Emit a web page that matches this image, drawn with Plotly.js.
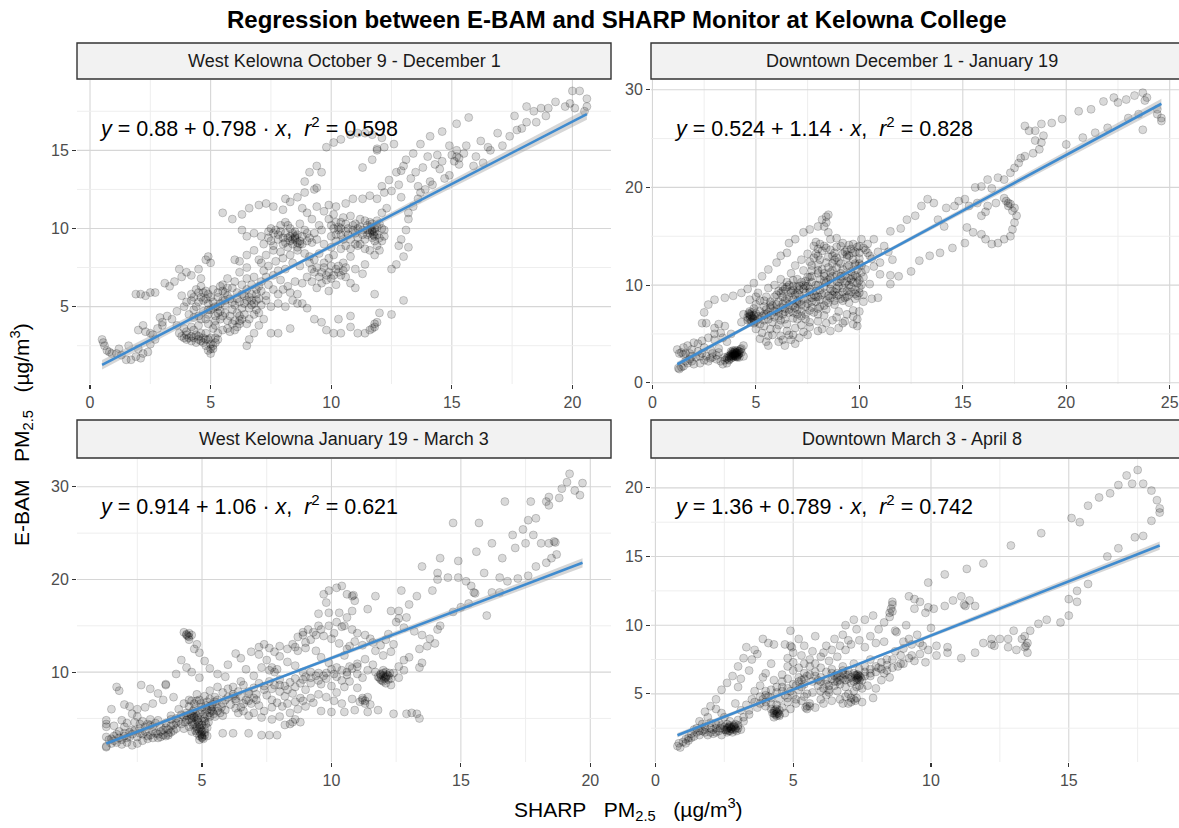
<!DOCTYPE html>
<html>
<head>
<meta charset="utf-8">
<script src="https://cdn.plot.ly/plotly-3.0.1.min.js"></script>
<style>html,body{margin:0;padding:0;background:#fff;}</style>
</head>
<body>
<div id="chart" style="width:1179px;height:828px;"></div>
<script>
// Facet labels and regression summaries (intercept, slope, r²)
const panelTitles = [
  'West Kelowna October 9 - December 1',
  'Downtown December 1 - January 19',
  'West Kelowna January 19 - March 3',
  'Downtown March 3 - April 8'
];
const fitIntercept = [0.88, 0.524, 0.914, 1.36];
const fitSlope = [0.798, 1.14, 1.06, 0.789];
const fitR2 = ['0.598', '0.828', '0.621', '0.742'];
// half-width of the 95% band at the first, mean and last x
const bandHalfWidth = [[0.30, 0.12, 0.36], [0.25, 0.12, 0.50], [0.30, 0.15, 0.50], [0.16, 0.08, 0.30]];

// Paired hourly readings [SHARP, E-BAM] in µg/m³
const westFall = [
  [0.5,2.9],[0.55,2.7],[0.6,2.5],[0.7,2.2],[0.8,2.1],[0.9,2.0],[1.1,2.0],[1.3,1.9],[1.5,1.6],[1.7,1.6],[1.9,1.8],[2.1,1.7],
  [2.2,2.0],[2.4,2.1],[2.0,2.3],[1.6,2.5],[1.2,2.3],[2.5,2.6],[2.7,2.9],[2.6,3.2],[2.3,3.4],[2.0,3.5],[2.2,3.8],[2.5,3.3],
  [2.8,3.6],[3.0,4.0],[2.9,4.3],[3.2,4.4],[3.0,3.8],[1.9,5.8],[2.1,5.8],[2.3,5.7],[2.5,5.9],[2.7,5.9],
  [3.3,6.3],[3.1,6.5],[3.5,6.6],[3.7,7.4],[3.8,6.9],[4.0,7.2],[4.2,7.0],[4.5,7.4],[4.8,8.0],[4.9,8.2],[5.0,7.8],[4.6,6.8],
  [6.0,8.0],[6.2,7.9],
  [3.7,3.3],[3.9,3.0],[4.0,2.9],[4.2,3.1],[4.3,3.5],[4.5,3.1],[4.6,2.8],[4.8,2.5],[4.9,2.2],[5.0,2.0],[5.1,2.3],[5.2,2.7],
  [5.3,3.3],[5.1,3.6],[4.9,3.9],[5.5,3.5],[5.8,3.4],[6.0,3.5],[6.2,3.9],[6.3,4.2],[6.5,2.5],[6.6,2.9],[6.8,3.3],[7.0,3.8],
  [7.2,4.2],[4.1,3.0],[4.4,3.2],[4.7,3.0],[5.0,2.6],[5.2,3.0],[4.0,3.2],[5.7,3.6],[6.1,3.7],
  [4.4,2.7],[4.6,3.3],[4.8,2.9],[5.0,3.0],[5.1,2.5],[4.9,2.9],[3.8,3.1],[4.2,2.8],
  [4.0,3.4],[4.3,3.0],[4.7,2.7],[5.0,2.3],[5.3,2.9],[4.5,2.9],[4.8,3.3],
  [3.8,5.7],[4.0,5.3],[4.2,5.4],[4.4,5.0],[4.6,5.6],[4.7,5.9],[4.9,5.2],[5.0,4.8],[5.2,4.4],[5.3,5.0],[5.5,5.4],[5.6,5.9],
  [5.8,5.5],[6.0,5.1],[6.1,4.6],[6.3,4.9],[6.4,5.7],[6.5,6.1],[6.6,5.6],[6.8,5.2],[6.9,4.8],[7.0,5.5],[7.1,6.0],[7.3,5.7],
  [7.4,6.4],[7.5,5.0],[7.8,5.2],[8.1,5.0],[8.4,5.4],[8.6,5.2],[8.8,5.2],[9.0,4.9],[5.4,6.3],[5.7,6.8],[6.0,6.6],[6.2,7.2],
  [6.5,7.5],[6.8,6.9],[7.2,7.3],[7.6,7.0],[7.9,6.7],[8.2,6.3],[8.5,6.6],[8.8,6.5],[9.0,6.9],[9.2,7.4],[4.5,5.3],[4.8,5.5],
  [6.7,5.4],[6.9,5.8],[5.1,4.9],[5.4,4.7],[6.2,5.3],[6.6,4.9],
  [4.1,4.5],[4.3,4.8],[4.5,4.4],[4.7,4.7],[4.9,4.5],[5.1,5.3],[5.3,5.6],[5.5,6.0],[5.7,5.7],[5.9,6.2],[6.1,5.9],[6.3,6.4],
  [6.5,6.8],[6.7,6.4],[6.9,6.1],[7.1,6.6],[7.3,6.9],[5.2,3.8],[5.4,4.2],[5.6,4.6],[5.8,4.4],[6.0,4.1],[6.2,4.4],[6.4,4.5],
  [6.6,4.2],[5.0,5.6],[4.8,6.0],[4.6,6.3],[4.4,6.1],[4.2,5.8],[5.6,5.1],[5.9,4.8],[6.4,5.2],[6.7,5.8],[7.0,6.3],[7.6,6.1],
  [7.8,5.8],[8.0,6.1],[8.3,5.9],[8.6,5.8],[5.3,4.6],[4.8,4.2],[4.5,3.8],[4.2,3.7],[3.9,3.6],[3.6,3.8],[3.4,4.2],[3.6,4.7],
  [3.9,5.0],
  [4.3,5.6],[4.5,5.9],[4.7,5.4],[4.9,5.8],[5.1,6.1],[5.3,5.9],[5.5,6.4],[5.7,6.2],[5.9,5.3],[6.1,5.5],[6.3,5.8],[6.5,5.4],
  [6.7,5.1],[6.9,5.4],[7.1,5.1],[7.3,5.4],[5.2,4.1],[5.5,4.4],[5.7,4.1],[5.9,3.9],[6.2,4.1],[6.5,3.9],[6.8,4.5],[7.0,4.6],
  [4.3,4.3],[4.6,4.2],[4.9,4.8],[5.2,5.0],[5.4,5.2],[5.6,5.4],
  [6.3,9.9],[6.5,9.5],[6.8,9.7],[7.1,9.5],[7.4,9.8],[7.6,9.7],[7.8,9.3],[8.1,9.7],[8.4,9.3],[8.2,8.8],[7.9,8.5],[7.6,8.6],
  [7.3,8.3],[7.0,8.0],[8.6,8.8],[8.9,8.4],[9.1,8.2],[9.3,8.0],[8.7,7.6],[9.4,7.5],[9.6,7.2],[9.8,6.7],[10.0,7.6],[10.3,7.2],
  [10.5,7.8],[10.8,8.2],[11.1,8.9],[11.3,7.1],[11.4,7.7],[11.0,7.4],[10.6,6.9],[10.2,6.4],[9.9,6.0],[8.5,9.5],[8.7,9.2],
  [7.2,9.0],[7.5,9.2],[7.7,9.9],[7.9,10.2],[8.1,10.4],[8.3,10.0],[8.5,9.8],[8.7,10.3],[8.9,9.9],[9.1,9.4],[9.3,9.7],[9.5,10.2],
  [8.4,9.0],[8.6,8.6],[8.8,9.0],[9.0,9.2],[8.2,9.4],[8.0,9.0],[7.6,8.9],[7.4,9.4],[9.2,10.6],[9.0,11.0],[8.8,11.3],[9.4,11.4],
  [9.7,11.1],[9.9,11.5],[10.2,11.4],[8.5,9.3],[8.6,9.6],[8.3,9.5],
  [7.5,10.0],[7.8,9.6],[8.0,9.4],[8.2,10.2],[8.4,9.7],[8.6,9.1],[8.8,9.5],[9.0,9.7],[9.2,9.1],[9.4,9.3],[8.3,9.2],[8.5,9.4],
  [8.7,9.0],[8.1,9.1],[7.9,9.8],
  [9.6,6.5],[9.8,7.0],[10.0,6.8],[10.2,7.4],[10.4,7.0],[10.6,7.5],[9.5,8.4],[9.7,7.8],[9.9,8.1],[10.1,8.3],[10.8,6.5],[11.0,6.2],
  [9.1,7.8],[9.3,7.2],[9.5,6.9],[9.7,7.5],[9.9,7.2],[10.1,7.0],[10.3,7.6],[10.5,7.3],[9.2,6.6],[9.4,6.2],
  [6.5,8.3],[6.8,8.6],[7.1,7.8],[7.4,7.6],[7.7,7.9],[8.0,8.1],[8.3,8.3],[8.4,7.8],[8.1,7.4],[7.8,7.3],
  [5.5,11.0],[5.9,10.6],[6.3,10.9],[6.6,11.3],[7.0,11.5],[7.3,11.6],[7.6,11.4],[8.0,11.2],[8.1,11.9],[8.3,11.7],[8.6,12.0],
  [8.9,12.3],[9.3,12.5],[8.9,13.0],[9.1,13.6],[9.4,14.0],[9.6,13.6],[9.4,12.6],
  [9.6,9.9],[9.9,10.6],[10.1,10.9],[10.3,10.1],[10.0,9.5],[9.7,9.0],[10.4,9.6],[10.6,10.3],[10.8,10.8],[10.9,9.9],[11.1,9.4],
  [11.3,9.9],[11.5,10.2],[11.6,9.7],[11.7,9.4],[11.8,10.0],[11.9,9.6],[12.0,10.3],[12.1,9.2],[11.4,8.7],[11.9,8.9],[12.2,9.9],
  [11.2,10.6],[10.6,11.6],[10.9,11.9],[11.3,11.9],[11.6,12.1],[11.9,11.9],[12.1,12.7],[12.2,12.3],[12.4,13.1],[12.7,13.6],
  [12.1,11.0],[12.3,11.3],[11.7,9.9],[11.8,9.5],[10.2,10.4],[10.0,10.2],
  [10.0,8.8],[10.2,9.2],[10.4,8.7],[10.6,8.9],[10.8,9.3],[11.0,9.7],[11.2,9.0],[11.4,9.3],[11.6,8.6],[11.8,8.3],[12.0,8.6],
  [10.5,10.7],[10.7,10.0],[11.0,10.3],[11.2,10.1],[11.5,9.6],[11.7,10.3],[11.9,10.5],[12.1,10.0],[11.6,9.9],[11.8,9.8],
  [11.75,9.6],[11.65,10.1],[10.3,9.9],[10.1,10.0],[10.4,10.4],
  [10.2,9.6],[10.5,9.3],[10.7,9.6],[10.9,10.2],[11.1,10.0],[11.3,9.6],[11.5,9.9],[11.7,9.8],[11.9,10.1],[11.6,10.4],
  [11.4,10.5],[11.8,9.2],[12.0,9.4],[12.2,9.5],[11.0,9.0],[10.8,8.7],[10.6,9.8],[10.4,10.0],
  [9.8,15.2],[10.1,15.5],[10.4,15.7],[10.8,16.0],[11.1,16.1],[11.4,16.1],[11.7,16.0],[12.1,15.8],[12.2,15.2],[12.6,15.4],
  [11.9,15.0],[11.9,15.1],[11.7,14.4],[11.3,13.9],
  [13.1,14.4],[13.4,14.8],[13.7,15.4],[14.0,14.6],[14.4,14.7],[14.9,15.3],[15.0,14.7],[15.1,14.3],[15.5,14.8],[15.3,14.1],
  [16.0,14.6],[15.9,14.0],[16.3,14.2],[14.5,13.8],[14.9,13.4],[14.7,13.2],[14.1,13.0],[13.7,12.3],[13.6,11.9],[13.4,11.4],
  [13.2,11.0],[13.2,10.6],[13.1,9.9],[12.9,9.3],[13.2,8.8],[13.0,8.2],[12.7,7.7],[12.5,7.4],[12.8,8.9],[13.6,12.7],
  [13.9,12.5],[14.2,12.8],[12.9,12.0],
  [12.5,12.4],[12.8,12.8],[13.3,13.2],[13.5,13.6],[13.8,13.9],[14.3,14.1],[14.6,14.3],[15.2,15.0],[15.6,15.3],[16.5,15.2],
  [12.9,13.7],[13.0,14.0],[15.3,14.5],[15.2,14.6],
  [9.3,4.2],[9.6,4.0],[9.8,3.5],[10.1,3.3],[10.4,3.3],[10.8,3.7],[11.1,3.3],[11.4,3.3],[11.6,3.5],[11.8,3.7],[11.9,4.0],
  [12.0,4.6],[12.5,4.5],[11.8,5.8],[13.0,5.4],[10.3,4.2],[10.8,4.4],[7.8,3.3],[7.5,3.3],[8.3,3.6],[11.7,3.6],[11.8,3.9],
  [14.1,15.9],[14.6,16.2],[15.2,16.7],[15.7,17.1],[16.9,16.1],[17.1,15.3],[17.4,15.9],[17.7,16.3],[17.6,17.2],[18.1,16.8],
  [18.1,17.8],[18.4,17.5],[18.7,17.7],[19.0,17.7],[19.3,18.1],[19.7,17.8],[20.1,17.7],[20.0,18.8],[20.3,18.8],[20.6,18.3],
  [20.6,17.8],[20.5,17.5],[19.9,18.0],[18.9,17.2],[18.5,16.8],[17.9,16.4],[16.6,15.0],[16.2,15.6]
];

const downtownWinter = [
  [1.2,3.4],[1.25,1.5],[1.3,1.4],[1.4,1.6],[1.5,1.7],[1.7,2.0],[1.8,2.4],[1.6,3.0],[1.7,3.8],[2.0,4.1],[2.2,3.2],[2.4,3.0],
  [2.6,2.7],[2.8,2.5],[2.3,2.0],[2.0,1.9],[1.9,2.7],[1.4,3.1],[1.5,3.6],[1.9,3.4],[3.0,4.4],[3.3,5.1],[2.6,6.1],[2.4,6.1],
  [1.6,2.2],[1.9,2.2],[2.1,2.6],[2.3,2.7],[2.5,2.3],[2.7,2.2],[2.9,2.6],[3.1,2.8],[3.2,3.1],[2.8,3.4],[2.5,3.6],[2.2,4.0],
  [2.4,4.3],[2.7,4.6],[3.0,5.0],[3.4,4.6],[1.3,3.0],[1.5,2.9],[1.8,3.0],
  [2.5,7.2],[2.7,8.0],[3.0,8.5],[3.5,8.7],[3.9,8.9],[4.3,9.2],[4.6,9.6],[4.9,10.2],[5.3,10.9],[5.6,11.6],[6.0,12.3],
  [6.2,13.0],[6.5,13.3],[6.6,14.3],[6.9,14.7],[7.3,15.4],[7.6,15.7],[8.0,16.0],[8.2,16.7],[8.5,17.2],[8.4,16.4],[8.5,15.4],
  [8.6,14.7],[8.9,14.8],[8.4,17.0],[8.3,16.0],
  [3.3,2.2],[3.5,2.3],[3.7,2.4],[3.8,2.7],[3.9,2.9],[4.0,2.9],[4.0,3.1],[4.1,2.8],[4.2,3.2],[3.9,3.3],[4.1,2.6],[4.3,3.5],
  [4.4,3.8],[3.6,2.0],[3.4,1.9],[3.1,2.4],[2.9,3.0],[3.2,3.5],[3.6,4.2],[3.8,5.0],[3.5,5.8],[3.2,6.0],[3.0,5.6],
  [3.95,2.8],[4.05,3.0],[4.0,2.7],[3.85,3.1],[4.15,2.9],[3.9,2.6],[4.1,3.3],[3.8,2.5],
  [3.7,2.6],[3.8,2.9],[3.9,3.0],[4.0,2.8],[4.1,3.1],[4.0,3.3],[3.9,2.7],[3.8,3.2],[4.2,3.0],[4.1,2.7],[3.95,3.15],[4.05,2.65],
  [3.75,2.8],[4.2,2.6],[3.6,2.5],[4.4,2.7],[4.3,3.1],[3.85,2.75],[3.95,2.95],[4.05,3.05],[4.15,3.2],[3.7,2.3],[3.65,2.7],
  [4.25,3.4],[3.5,2.6],
  [4.7,7.0],[4.8,6.8],[4.9,6.1],[5.1,6.8],[4.6,6.4],[5.0,5.5],[5.3,5.1],[5.2,4.5],[5.5,4.2],[5.8,4.9],[6.0,5.5],[6.2,4.8],
  [6.4,3.8],[6.7,4.4],[6.9,4.0],[7.1,4.6],[7.3,5.2],[7.6,5.7],[8.0,5.3],[8.2,5.5],[4.75,6.9],[4.65,7.1],
  [4.6,6.7],[4.7,6.5],[4.8,7.2],[4.9,6.9],[4.7,7.3],[4.85,6.6],[5.0,7.1],[4.8,6.3],[4.9,6.5],[5.0,6.3],[4.75,6.2],[4.7,6.8],
  [5.1,9.2],[5.4,8.4],[5.7,7.7],[6.0,7.5],[6.3,8.1],[6.4,9.6],[6.6,8.8],[6.8,9.9],[7.0,10.6],[7.1,8.3],[7.2,7.3],[7.4,6.5],
  [7.4,9.9],[7.6,10.8],[7.7,8.7],[7.9,9.4],[8.0,11.2],[8.1,7.8],[8.3,6.9],[8.5,8.2],[8.6,10.1],[8.7,11.5],[8.8,9.3],
  [8.9,6.7],[9.0,12.4],[9.1,10.6],[9.2,6.1],[9.3,8.7],[9.4,11.9],[9.5,13.0],[9.6,9.8],[9.7,7.4],[9.8,12.2],[9.9,8.9],
  [9.9,6.5],[10.0,7.3],[10.0,10.5],[10.1,11.3],[9.9,10.2],[10.3,11.6],[10.7,11.9],[11.0,12.3],[11.6,12.6],[11.2,14.0],
  [10.7,14.7],[10.1,14.7],[10.0,13.3],[9.6,13.7],[9.1,14.0],[8.0,13.7],[7.8,14.0],[7.5,13.2],[7.2,12.6],[6.9,12.0],
  [6.7,11.2],[6.2,10.6],[5.9,10.0],[5.6,9.7],[5.0,8.0],[4.7,8.5],[5.8,6.2],[6.1,6.8],[6.5,6.0],[6.8,6.6],[7.0,7.0],
  [7.8,7.2],[8.4,7.5],[8.8,8.0],[9.2,8.4],[9.5,9.0],[9.8,9.5],[10.2,9.0],[10.2,8.3],[8.1,12.6],[8.5,12.9],[8.8,13.3],
  [9.3,13.4],[7.3,11.5],[7.7,12.0],[6.5,10.3],[6.2,9.2],[5.5,8.8],[4.9,7.6],[4.4,7.0],[4.3,6.2],[5.2,7.3],[5.7,8.3],
  [6.4,7.3],[6.9,7.7],[7.5,8.1],[8.2,9.0],[8.6,9.6],[9.0,9.9],[9.4,10.4],[9.7,10.9],[10.1,12.0],[10.5,13.0],[10.4,14.2],
  [10.9,13.4],[11.4,13.4],[11.0,11.1],[11.5,11.0],[10.5,10.1],[10.6,8.6],[9.7,6.0],[9.9,5.8],[9.3,6.3],[6.6,4.9],[6.1,4.2],
  [5.6,3.8],[7.0,9.2],[7.3,9.6],[7.6,9.3],[6.7,9.4],[8.3,10.4],[8.9,11.0],[9.6,11.4],[8.0,10.0],[6.3,7.0],[5.6,6.5],
  [9.5,14.1],[9.9,13.9],[10.3,13.6],[8.4,13.8],
  [5.2,6.0],[5.4,6.4],[5.5,7.0],[5.7,6.9],[5.9,7.3],[6.0,8.0],[6.2,7.7],[6.4,8.4],[6.6,8.0],[6.8,8.5],[7.0,8.1],[7.1,9.0],
  [7.3,8.6],[7.4,9.2],[7.6,9.6],[7.8,9.0],[7.9,8.3],[8.0,8.8],[8.1,9.5],[8.3,9.8],[8.4,10.3],[8.6,10.7],[8.7,9.0],[8.9,9.6],
  [9.0,10.3],[9.1,11.2],[9.3,11.0],[9.4,9.4],[9.5,10.0],[9.6,10.6],[9.8,11.0],[9.9,11.6],[10.0,12.2],[10.1,10.0],[10.2,10.8],
  [9.7,12.6],[9.4,12.8],[9.2,13.2],[8.9,12.8],[8.7,12.2],[8.5,11.8],[8.2,11.6],[8.0,12.1],[7.7,11.5],[7.5,10.8],[7.2,10.3],
  [7.0,9.8],[6.8,10.5],[6.6,10.0],[6.3,9.8],[6.1,9.4],[5.9,8.8],[5.7,8.0],[5.4,7.8],[5.2,8.4],[5.0,8.8],[6.2,6.4],[6.6,7.2],
  [7.0,6.5],[7.4,7.0],[7.7,7.7],[8.0,7.0],[8.3,7.9],[8.6,8.7],[8.9,8.9],[9.2,9.3],[9.5,8.2],[9.8,8.6],[10.0,9.2],[9.7,6.8],
  [9.4,7.0],[9.0,7.3],[8.7,6.4],[8.4,6.1],[8.0,6.3],[7.6,6.2],[7.2,5.9],[6.9,5.6],[6.5,5.3],[6.1,5.9],[5.7,5.5],[5.4,5.8],
  [5.6,4.8],[6.3,4.4],[6.8,4.9],[7.5,4.9],[8.6,5.3],[9.0,5.6],
  [5.5,7.5],[5.8,7.9],[6.1,8.3],[6.3,8.8],[6.5,8.6],[6.7,9.2],[6.9,9.0],[7.1,9.5],[7.3,10.0],[7.5,9.9],[7.7,10.3],[7.9,10.0],
  [8.1,10.6],[8.3,10.9],[8.5,10.5],[8.7,10.9],[8.9,10.4],[9.1,10.9],[9.3,10.2],[9.5,10.7],[9.7,10.3],[9.9,10.8],[5.6,7.2],
  [5.9,6.7],[6.1,7.2],[6.4,7.6],[6.6,7.5],[6.8,7.9],[7.0,8.4],[7.2,8.0],[7.5,8.6],[7.7,8.3],[7.9,8.8],[8.1,8.5],[8.3,9.2],
  [8.5,8.9],[8.7,9.4],[9.0,9.0],[9.2,9.7],[9.4,8.8],[9.6,9.3],[9.8,9.1],[10.0,9.7],[6.0,9.0],[6.3,9.4],[6.5,9.8],[6.8,9.5],
  [7.1,9.9],[7.4,10.4],[7.7,10.9],[8.0,11.5],[8.3,11.2],[8.6,11.3],[8.9,11.8],[9.2,11.6],[9.5,12.0],[9.8,12.0],[5.4,7.0],
  [5.1,6.5],[5.3,6.8],[6.4,6.5],[6.8,7.2],[7.2,6.8],[7.6,7.4],[8.0,7.6],[8.4,8.4],[8.8,8.4],[9.1,8.6],[7.4,7.8],[7.0,7.5],
  [7.9,13.2],[8.2,13.5],[8.3,14.0],[8.6,13.6],[8.9,13.9],[9.2,14.3],[9.4,13.6],[9.7,14.2],[10.0,14.0],[10.2,13.8],[10.4,13.3],
  [10.6,12.7],[9.8,13.4],[8.1,14.2],[7.9,14.4],[8.8,12.6],[9.1,12.2],[9.4,13.1],[9.7,13.3],[10.0,12.7],[8.4,12.3],[8.7,13.0],
  [7.6,12.4],[7.8,12.8],[8.0,13.0],
  [10.9,8.7],[11.5,10.1],[11.9,10.9],[12.5,11.4],[12.9,12.5],[13.4,13.0],[13.9,13.3],[14.5,13.8],[15.1,14.3],
  [15.1,18.8],[15.3,18.1],[15.7,18.4],[16.2,18.1],[16.6,18.4],[17.1,18.6],[17.2,18.4],[17.3,18.3],[17.5,17.9],[17.6,17.1],
  [17.5,16.4],[17.4,15.7],[17.3,15.0],[17.0,14.7],[16.7,14.3],[16.4,14.2],[16.1,14.7],[15.9,15.2],[15.5,15.4],[15.2,15.9],
  [15.9,17.1],[16.1,17.5],[14.6,18.1],[14.2,17.9],[14.1,16.0],[13.8,16.7],[13.3,18.8],[13.6,18.4],[13.0,18.1],[12.3,16.7],
  [12.7,17.1],[11.5,15.5],[12.0,15.8],[17.0,18.9],[17.4,17.6],[17.2,18.1],
  [15.6,20.0],[15.9,20.1],[16.2,20.8],[16.7,21.0],[17.0,20.8],[17.3,21.5],[17.7,22.5],[18.0,23.2],[18.4,23.5],[18.7,23.9],
  [18.8,24.6],[18.9,25.3],[18.2,25.8],[18.5,25.8],[18.0,26.3],[18.8,26.5],[19.3,26.6],[19.8,27.0],[20.6,27.8],[21.2,28.0],
  [21.8,28.8],[22.3,29.2],[22.5,28.7],[22.9,29.0],[23.3,29.4],[23.7,29.7],[23.9,29.2],[23.8,28.9],[24.4,28.0],[24.6,27.1],
  [24.6,26.8],[24.4,27.5],[23.7,25.9],[20.0,24.4],[20.8,25.1],[21.4,25.6],[22.0,26.1],[23.0,27.1],[23.5,27.5],[17.5,22.0],
  [17.8,23.0],[18.5,24.8],[16.4,19.9],[14.8,18.6]
];

const westWinter = [
  [1.3,4.8],[1.3,4.4],[1.3,4.1],[1.3,3.0],[1.3,2.0],[1.3,1.9],[1.5,2.3],[1.4,2.7],[1.6,3.1],[1.7,2.4],[1.9,2.2],[2.1,2.4],
  [2.3,2.1],[2.5,2.3],[2.7,2.6],[2.9,2.8],[2.2,3.0],[2.0,3.4],[1.8,3.6],[2.3,3.75],[2.0,4.1],[2.3,5.5],[2.5,5.2],[2.7,4.7],
  [2.9,4.4],[3.1,4.1],[3.2,3.4],[3.5,3.75],[3.7,3.4],[3.9,3.7],[4.0,3.9],[3.6,3.1],[3.3,2.9],[3.0,3.2],[2.8,3.6],[1.5,6.0],
  [1.7,8.4],[1.8,8.0],[2.0,6.5],[2.2,6.3],[2.5,6.0],[2.65,8.6],[3.0,8.2],[3.3,7.7],[3.6,8.6],[3.6,8.7],[3.9,7.3],[3.5,7.0],
  [3.1,6.6],[2.8,6.2],[1.6,4.2],[3.4,3.6],[3.8,3.5],[2.6,3.4],
  [1.5,2.8],[1.7,3.3],[1.9,2.7],[2.1,2.9],[2.3,3.3],[2.5,3.0],[2.7,3.3],[2.9,3.1],[3.1,3.6],[3.3,3.3],[3.5,3.2],[3.7,3.8],
  [3.9,4.3],[3.6,4.5],[3.3,4.8],[3.0,4.9],[2.6,4.4],[2.4,4.6],[2.1,4.5],[1.9,4.8],[3.8,4.9],[4.0,4.5],
  [2.2,3.5],[2.4,3.7],[2.6,3.9],[2.8,4.1],[3.0,4.3],[3.2,4.5],[3.4,4.1],[3.6,4.0],[3.8,4.2],[2.0,3.1],[1.8,2.9],[1.6,2.6],
  [3.1,2.9],[3.4,3.0],[3.7,3.2],
  [4.0,5.0],[4.2,4.4],[4.3,3.9],[4.5,4.1],[4.6,4.6],[4.7,5.1],[4.8,4.8],[4.9,4.3],[4.8,3.4],[5.0,2.9],[5.1,3.2],[5.0,3.6],
  [5.2,4.0],[5.0,5.9],[5.1,5.5],[5.3,6.3],[5.2,6.8],[5.5,7.3],[5.4,5.8],[5.6,6.1],[5.8,6.6],[5.0,6.2],[4.7,6.6],[4.5,7.0],
  [4.8,7.6],[5.3,8.0],[5.6,8.4],[5.8,5.3],[4.4,5.6],[4.1,6.0],[3.8,5.3],[4.6,3.6],[4.9,2.7],[4.8,5.2],[4.9,5.6],[5.1,4.7],
  [4.6,5.0],[5.2,5.9],[4.9,4.0],[5.0,3.2],
  [4.1,4.7],[4.3,5.2],[4.4,4.8],[4.6,5.3],[4.7,4.4],[4.8,3.9],[4.9,3.6],[5.0,4.3],[5.1,5.0],[5.2,5.3],[5.3,5.6],[5.4,6.5],
  [5.5,6.8],[5.3,7.1],[5.1,7.4],[4.9,7.0],[4.7,6.0],[4.5,6.3],[4.3,6.6],[4.2,5.4],[5.0,3.0],[5.05,2.8],[4.95,3.3],[5.1,3.8],
  [4.85,4.6],[4.75,5.5],[4.65,5.8],[5.25,4.6],[5.5,5.2],[5.7,5.6],[5.9,5.9],[5.6,7.0],
  [4.4,5.3],[4.55,5.5],[4.7,5.2],[4.85,5.0],[5.0,4.7],[5.15,4.4],[5.3,5.2],[5.45,5.5],[5.6,5.8],[5.75,6.2],[4.35,4.6],
  [4.5,4.9],[4.65,4.3],[4.8,4.1],[4.95,3.8],[5.1,3.5],[5.2,3.1],[4.9,3.1],[4.75,3.7],[5.35,6.0],[5.15,6.4],[4.95,6.6],
  [4.8,6.9],[4.6,6.9],[5.4,6.2],
  [4.0,9.8],[4.2,11.3],[4.4,10.5],[4.7,12.5],[4.8,13.0],[4.5,13.8],[4.4,14.1],[4.3,14.3],[4.6,14.0],[4.5,13.5],[4.9,12.1],
  [5.1,11.2],[5.3,10.4],[5.6,9.8],[5.9,9.5],[4.6,10.0],[4.9,9.4],[4.4,14.0],[4.45,13.9],[4.5,14.2],
  [5.8,3.4],[6.2,3.4],[6.8,3.4],[7.3,3.2],[7.6,3.2],[7.9,3.2],[8.2,4.3],[8.5,4.6],[8.8,4.6],[8.4,4.4],[8.6,4.9],
  [6.0,7.3],[6.3,6.9],[6.5,6.2],[6.7,7.0],[6.9,6.6],[7.1,7.0],[7.2,6.4],[6.4,5.6],[6.8,5.3],[7.3,5.1],[7.7,4.9],[8.0,5.2],
  [8.4,5.6],[8.7,6.0],[9.0,6.3],[9.3,6.7],[9.6,5.8],[10.0,5.7],[10.5,5.7],[10.9,5.9],[11.4,5.7],[11.8,5.9],[12.4,5.5],
  [12.9,5.5],[13.3,5.5],[13.4,5.0],[13.1,5.6],[7.0,7.2],[6.8,6.9],
  [6.2,8.4],[6.5,9.0],[6.7,10.3],[7.0,9.6],[7.3,10.5],[7.6,10.2],[7.8,10.0],[7.7,10.5],[7.5,11.3],[7.2,11.9],[6.9,12.2],
  [6.5,11.5],[6.0,10.8],[6.3,12.0],[8.0,9.2],[8.2,8.5],[8.5,7.7],[8.8,7.2],[9.0,8.1],[9.2,8.8],[9.5,9.1],[9.7,9.6],
  [10.0,8.5],[10.2,7.8],[10.5,8.4],[10.7,9.0],[11.0,8.3],[11.2,7.0],[11.3,6.6],[11.4,7.3],[10.8,7.1],[10.4,6.6],[7.9,10.3],
  [5.8,7.8],[6.0,8.2],[6.2,7.6],[6.4,7.9],[6.6,8.6],[6.8,7.7],[7.0,8.3],[7.2,8.8],[7.4,8.1],[7.6,9.0],[7.8,8.6],[8.0,7.9],
  [8.2,7.4],[8.4,8.9],[8.6,9.3],[8.8,8.8],[9.0,9.5],[9.2,10.0],[9.4,9.6],[9.6,8.7],[9.8,9.9],[10.0,10.3],[10.2,9.5],
  [10.4,9.1],[10.6,9.7],[10.8,10.4],[11.0,9.8],[11.2,9.4],[11.4,10.2],[11.6,10.8],[7.5,7.5],[7.7,7.0],[7.9,6.7],[8.1,6.3],
  [8.3,6.6],[8.6,6.8],[8.9,6.9],[9.2,7.2],[9.5,7.6],[9.8,7.3],[10.1,6.9],[6.1,6.5],[6.3,6.1],[6.6,5.8],[7.0,5.6],[7.4,5.8],
  [7.7,6.2],
  [6.5,7.4],[6.8,7.9],[7.1,7.6],[7.4,8.5],[7.7,8.2],[8.0,8.6],[8.3,8.1],[8.6,8.4],[8.9,9.2],[9.2,9.4],[9.5,9.9],[9.8,9.3],
  [10.1,9.8],[10.4,10.2],[10.7,10.6],[11.0,10.9],[6.3,7.1],[6.6,6.6],[5.9,7.0],[6.2,7.4],
  [8.0,12.8],[8.3,12.5],[8.5,13.0],[8.7,13.8],[8.9,14.0],[9.1,14.6],[9.3,14.3],[9.5,15.0],[9.0,13.2],[9.4,12.3],[9.6,11.6],
  [9.9,11.0],[10.2,10.5],[10.5,11.8],[10.7,12.8],[10.9,13.3],[11.2,12.9],[11.5,13.6],[11.7,12.3],[11.3,11.4],[11.0,10.6],
  [10.6,10.0],[8.3,11.1],[8.6,10.7],[8.9,10.0],[12.0,11.8],[12.3,12.2],[8.9,14.3],[8.6,12.7],
  [8.7,12.3],[9.0,12.6],[9.2,13.5],[9.4,14.0],[9.6,14.6],[9.9,15.0],[10.2,15.4],[10.5,15.0],[10.8,14.6],[11.0,14.2],
  [11.3,14.0],[11.6,13.2],[11.9,12.9],[12.1,13.5],[12.2,14.1],[10.0,13.6],[10.3,13.1],[10.6,12.5],[8.0,11.7],[7.8,12.2],
  [7.6,12.6],[7.4,13.0],[7.2,12.7],
  [11.8,9.5],[12.0,10.2],[12.1,8.8],[12.2,9.2],[11.9,9.8],[12.3,8.6],[12.0,9.0],[11.7,10.0],[12.4,9.9],[12.6,10.6],
  [12.8,10.2],[12.6,9.4],[11.2,7.2],[11.3,6.9],[11.5,6.5],[11.1,6.8],[12.1,9.5],[11.9,9.2],
  [12.05,9.3],[12.15,9.7],[11.95,9.1],[12.25,9.9],[12.1,10.0],[11.85,9.4],[12.0,9.6],[12.1,9.4],[11.9,9.7],[12.2,9.6],
  [12.0,9.9],[12.3,9.3],
  [9.7,18.4],[9.9,18.8],[10.2,19.1],[10.4,19.3],[10.6,18.4],[10.8,18.2],[10.85,18.3],[10.9,17.7],[10.8,16.6],[10.6,15.9],
  [10.3,16.4],[9.9,16.4],[9.5,16.3],[9.8,17.5],[11.7,18.2],[11.4,16.8],[12.7,18.8],[12.6,16.6],[13.0,17.3],[13.3,18.2],
  [13.9,18.8],[12.3,16.6],[10.4,14.9],[10.1,14.2],[9.7,13.9],
  [12.5,15.4],[12.8,14.8],[13.2,14.4],[13.5,14.0],[13.8,13.6],[14.1,14.6],[14.2,15.0],[14.0,13.1],[13.7,12.8],[13.4,12.5],
  [13.0,11.6],[12.8,11.3],[13.5,11.0],[13.4,10.5],[12.6,15.8],[12.9,15.9],[12.4,13.0],
  [14.1,20.7],[14.1,20.0],[14.5,20.2],[14.9,20.2],[15.2,19.8],[15.4,19.3],[15.5,18.6],[15.55,18.5],[15.9,20.7],[16.5,20.2],
  [16.2,18.6],[16.5,18.6],[16.0,16.1],[15.3,17.4],[15.0,17.0],[14.7,16.5],[13.5,21.4],[14.2,22.3],[14.9,22.0],[15.6,23.0],
  [16.6,22.3],[16.2,23.9],[14.7,26.1],[15.7,26.1],[16.7,28.4],[17.0,24.8],[17.4,25.4],[17.6,26.4],[17.9,26.6],[17.7,28.4],
  [17.8,24.8],[17.5,23.9],[17.1,23.4],[18.1,23.9],[18.4,23.9],[18.6,24.1],[18.65,24.0],[18.7,22.7],[18.5,22.3],[18.3,21.8],
  [17.9,21.4],[17.6,20.4],[18.3,28.4],[18.4,28.0],[18.4,28.9],[18.8,28.8],[18.9,29.8],[19.1,30.5],[19.2,31.4],[19.4,29.6],
  [19.6,29.1],[19.7,30.4],[16.8,19.8],[17.2,20.1]
];

const downtownSpring = [
  [0.8,1.2],[0.85,1.4],[0.9,1.1],[1.0,1.5],[1.1,1.7],[1.2,1.8],[1.4,2.4],[1.6,3.0],[1.8,3.7],[2.0,4.1],[2.2,4.6],[2.4,5.3],
  [2.6,5.8],[2.8,6.3],[3.0,7.0],[3.2,7.6],[3.3,8.4],[3.6,8.2],[3.9,9.0],[4.1,8.7],[4.3,8.6],[4.7,8.6],[4.9,8.5],[4.95,8.4],
  [4.9,9.6],[5.2,9.0],[5.4,8.5],[3.5,7.5],[3.7,7.9],[3.4,6.7],[3.1,6.1],[3.0,5.5],
  [1.3,2.1],[1.5,2.5],[1.7,2.3],[1.8,2.6],[2.0,2.2],[2.2,2.5],[2.3,2.9],[2.5,2.4],[2.6,2.2],[2.7,2.6],[2.8,2.4],[2.9,2.8],
  [3.0,2.5],[2.7,3.0],[2.5,3.3],[2.2,3.9],[2.9,4.3],[3.1,3.8],[3.3,4.2],[3.5,4.6],[3.6,5.2],[3.8,5.6],[4.0,5.2],[4.1,4.8],
  [4.2,4.3],[4.4,3.7],[4.5,3.5],[4.3,3.3],[4.6,4.0],[4.8,4.4],[5.0,4.9],[5.2,5.3],[5.4,5.7],[5.5,4.1],[5.6,4.3],[5.8,4.0],
  [6.0,4.6],[6.2,4.9],[3.9,4.6],[3.7,4.0],[3.4,3.5],[3.2,3.0],[1.9,3.3],[2.4,3.6],[2.75,2.5],[2.85,2.7],[2.65,2.3],
  [4.45,3.6],[4.35,3.8],[2.1,2.4],
  [1.4,1.9],[1.6,2.0],[1.8,2.2],[1.9,2.0],[2.1,2.1],[2.3,2.3],[2.4,2.0],[2.6,2.5],[2.7,2.3],[2.8,2.2],[2.9,2.5],[3.0,2.7],
  [2.75,2.45],[2.85,2.6],[2.6,2.8],[2.4,2.7],[2.2,2.8],[2.0,2.9],[1.7,2.8],[1.5,2.2],[1.2,1.6],[1.1,1.4],[1.3,1.8],
  [2.95,2.3],[3.1,2.4],
  [2.5,2.6],[2.6,2.4],[2.7,2.7],[2.8,2.6],[2.9,2.4],[2.65,2.55],[2.55,2.35],[2.35,2.5],[2.2,2.2],[2.0,2.5],[1.8,2.4],
  [1.6,2.3],[3.0,3.1],[3.2,3.3],[3.4,3.8],[4.3,3.6],[4.4,3.9],[4.5,3.4],[4.4,3.55],[4.3,3.75],
  [4.0,6.5],[4.3,6.0],[4.6,6.4],[4.8,7.0],[5.0,6.7],[5.2,6.2],[5.4,6.5],[5.6,7.0],[5.8,6.6],[6.0,6.2],[6.2,6.0],[6.3,5.6],
  [6.5,6.3],[6.7,6.0],[6.9,5.5],[7.0,5.0],[7.2,4.6],[7.1,4.4],[6.8,4.3],[6.6,5.2],[7.3,6.4],[7.35,6.2],[7.5,6.0],[7.7,5.6],
  [7.9,4.7],[8.0,5.4],[8.2,6.0],[7.6,7.0],[7.8,7.5],[8.1,6.9],[8.4,7.1],[8.6,7.5],[8.8,7.0],[9.0,7.2],[9.2,7.6],[9.4,7.4],
  [8.7,8.1],[8.9,7.8],[9.0,8.3],[4.8,7.6],[5.0,8.0],[5.3,7.8],[5.7,8.1],[6.0,7.7],[6.3,7.4],[6.6,7.7],[6.9,8.2],[7.1,8.6],
  [7.4,8.9],[7.6,8.4],[7.2,7.2],[6.8,7.0],[6.4,6.8],[5.9,5.6],[5.5,5.0],[7.8,6.5],[8.3,6.5],[8.5,6.2],[7.5,4.4],[7.3,4.7],
  [4.2,7.2],[3.9,6.2],[4.6,5.5],[7.4,6.3],[6.6,6.2],[6.8,6.5],[5.3,5.5],
  [3.6,4.4],[3.8,4.3],[4.0,4.1],[4.2,3.9],[4.4,4.2],[4.5,4.6],[4.7,4.9],[4.9,5.2],[5.1,5.6],[5.3,6.0],[5.5,6.3],[5.7,5.9],
  [5.9,6.0],[6.1,5.4],[6.3,5.1],[6.5,5.6],[6.6,5.9],[6.7,6.3],[6.8,6.1],[6.9,6.4],[7.0,6.7],[7.1,6.2],[7.2,5.9],[7.3,6.0],
  [7.4,5.6],[7.5,5.4],[7.6,6.6],[7.8,6.3],[8.0,6.6],[6.4,6.5],[6.2,6.6],[6.0,6.9],[5.8,7.2],[5.6,7.5],[5.4,7.2],[5.2,6.9],
  [5.0,7.3],[4.8,6.1],[4.6,5.9],[4.4,5.1],[4.2,4.7],[4.0,4.4],[4.4,3.4],[4.35,3.5],[4.5,3.8],[4.25,3.6],[5.6,4.1],
  [5.45,4.0],[5.5,3.9],[5.3,4.5],[5.1,4.3],[4.9,3.9],[4.7,3.6],[6.1,4.3],[6.4,4.5],[6.7,4.6],[6.9,4.8],[7.2,5.2],[7.1,4.7],
  [7.25,4.5],[7.0,4.3],[8.2,6.8],[8.4,6.7],[8.6,6.9],[8.9,7.2],[9.3,7.8],[9.6,7.9],[6.9,6.0],[7.0,6.1],[7.35,6.1],[7.4,6.0],
  [7.3,6.3],
  [3.8,4.8],[4.0,4.9],[4.2,5.3],[4.4,5.5],[4.6,5.2],[4.8,5.4],[5.0,5.7],[5.2,5.9],[5.4,6.1],[5.6,6.4],[5.8,6.3],[6.0,5.9],
  [6.2,5.7],[6.4,6.1],[6.6,6.5],[6.8,6.7],[7.0,6.4],[7.2,6.5],[7.4,6.8],[7.6,6.3],[7.8,6.8],[8.0,7.0],[8.2,7.3],[8.4,7.5],
  [6.5,5.9],[6.7,5.7],[7.1,5.8],[7.3,5.5],[6.3,5.3],[6.0,5.2],[5.7,5.1],[5.4,4.8],[5.1,4.6],[4.8,4.7],[7.35,6.4],[7.45,6.2],
  [7.3,6.15],[7.25,6.35],
  [6.9,10.0],[7.2,10.4],[7.3,9.7],[7.6,10.4],[7.9,10.7],[8.1,9.7],[8.3,10.2],[8.5,10.9],[8.6,11.7],[8.6,11.5],[8.7,9.6],
  [8.75,9.5],[9.1,10.0],[9.2,12.1],[9.4,11.9],[9.6,11.7],[9.9,11.3],[9.8,10.9],[9.4,11.2],[10.1,11.2],[10.5,11.4],[10.8,11.8],
  [11.1,12.1],[11.2,11.5],[11.25,11.4],[11.6,11.4],[11.4,11.8],[6.5,9.0],[6.8,9.3],[7.0,8.9],[7.8,9.2],[8.0,8.7],[8.3,8.8],
  [5.8,9.2],[6.2,8.5],[8.6,11.0],[8.55,11.2],[8.5,10.6],[6.1,8.0],[6.4,8.2],[6.7,8.5],
  [9.7,8.5],[9.8,7.3],[10.2,7.8],[10.6,8.0],[10.6,8.4],[11.1,7.6],[11.6,8.0],[11.9,8.7],[12.2,9.0],[12.2,8.6],[12.3,8.5],
  [12.5,9.0],[12.8,9.0],[12.8,8.4],[13.0,9.6],[13.1,8.2],[13.4,9.2],[13.4,8.4],[13.45,8.5],[13.5,8.7],[13.6,9.6],[13.3,9.0],
  [13.5,8.0],[13.9,10.1],[14.2,10.4],[14.7,10.2],[15.0,10.7],[15.3,11.7],[15.0,11.9],[15.3,12.5],[15.7,13.0],[16.4,15.0],
  [16.8,15.6],[17.4,16.4],[17.7,16.5],[18.0,17.6],[18.3,18.2],[18.3,18.5],[18.2,19.1],[18.0,19.8],[17.7,20.3],[17.3,20.3],
  [17.5,21.3],[17.1,20.9],[16.8,20.2],[16.5,19.6],[16.1,19.3],[15.7,18.7],[15.1,17.8],[15.4,17.5],[14.0,16.7],[12.9,15.8],
  [11.9,14.5],[11.3,14.1],[10.5,13.7],[9.9,13.1],[9.5,9.3],[9.2,9.0],[10.0,9.8],[9.0,8.8],[9.3,8.6],[9.6,8.7],[9.9,8.2],
  [10.2,8.5]
];

const panelData = [westFall, downtownWinter, westWinter, downtownSpring];

// Axis settings per panel: range and tick step
const xRanges = [[-0.54, 21.6], [-0.07, 25.45], [0.17, 20.8], [-0.16, 19.0]];
const yRanges = [[0.05, 19.5], [-0.13, 31.0], [0.3, 33.0], [0.04, 22.1]];
const xSteps = [5, 5, 5, 5];
const ySteps = [5, 10, 10, 5];

const W = 1179, H = 828;
const px = v => v / W;          // horizontal pixel -> paper
const py = v => 1 - v / H;      // vertical pixel -> paper

const panelX = [[77, 611], [651, 1179], [77, 611], [651, 1179]];
const panelY = [[80, 384], [80, 384], [459, 762], [459, 762]];
const stripY = [[43, 79], [43, 79], [420, 458], [420, 458]];
const eqPos = [[97, 127], [672, 127], [97, 505], [672, 505]];

const FONT = 'Liberation Sans, Arial, sans-serif';
const MAJOR = '#d6d6d6', MINOR = '#eeeeee';
const traces = [];
const layout = {
  width: W, height: H,
  margin: {l: 0, r: 0, t: 0, b: 0},
  paper_bgcolor: '#ffffff', plot_bgcolor: '#ffffff',
  showlegend: false, hovermode: false,
  font: {family: FONT, color: '#333'},
  shapes: [], annotations: []
};

panelData.forEach((pts, i) => {
  const n = i + 1;
  const sfx = n === 1 ? '' : String(n);
  const xa = 'x' + sfx, ya = 'y' + sfx;
  const xs = pts.map(p => p[0]), ys = pts.map(p => p[1]);
  const xmin = Math.min(...xs), xmax = Math.max(...xs);
  const xmean = xs.reduce((a, b) => a + b, 0) / xs.length;
  const fit = x => fitIntercept[i] + fitSlope[i] * x;
  const hw = bandHalfWidth[i];

  traces.push({
    type: 'scatter', mode: 'markers', x: xs, y: ys, xaxis: xa, yaxis: ya,
    marker: {size: 8, color: 'rgba(0,0,0,0.15)', line: {color: 'rgba(0,0,0,0.18)', width: 1}},
    hoverinfo: 'skip'
  });
  const bx = [xmin, xmean, xmax, xmax, xmean, xmin];
  const by = [fit(xmin) + hw[0], fit(xmean) + hw[1], fit(xmax) + hw[2],
              fit(xmax) - hw[2], fit(xmean) - hw[1], fit(xmin) - hw[0]];
  traces.push({
    type: 'scatter', mode: 'lines', x: bx, y: by, xaxis: xa, yaxis: ya,
    fill: 'toself', fillcolor: 'rgba(153,153,153,0.4)', line: {width: 0}, hoverinfo: 'skip'
  });
  traces.push({
    type: 'scatter', mode: 'lines', x: [xmin, xmax], y: [fit(xmin), fit(xmax)], xaxis: xa, yaxis: ya,
    line: {color: '#3f8bcf', width: 2.6}, hoverinfo: 'skip'
  });

  const axBase = {
    showline: false, zeroline: false, showgrid: false,
    ticks: 'outside', ticklen: 4, tickwidth: 1.1, tickcolor: '#333',
    tickfont: {family: FONT, size: 16, color: '#4d4d4d'}, tick0: 0
  };
  layout['xaxis' + sfx] = Object.assign({}, axBase, {
    domain: [px(panelX[i][0]), px(panelX[i][1])], anchor: ya, range: xRanges[i], dtick: xSteps[i]
  });
  layout['yaxis' + sfx] = Object.assign({}, axBase, {
    domain: [py(panelY[i][1]), py(panelY[i][0])], anchor: xa, range: yRanges[i], dtick: ySteps[i]
  });

  // grid: labelled ticks plus lighter lines halfway between them
  const xh = xSteps[i] / 2, yh = ySteps[i] / 2;
  for (let k = Math.ceil(xRanges[i][0] / xh); k * xh <= xRanges[i][1]; k++) {
    layout.shapes.push({type: 'line', layer: 'below', xref: xa, yref: ya + ' domain',
      x0: k * xh, x1: k * xh, y0: 0, y1: 1,
      line: {color: k % 2 === 0 ? MAJOR : MINOR, width: k % 2 === 0 ? 1.1 : 1}});
  }
  for (let k = Math.ceil(yRanges[i][0] / yh); k * yh <= yRanges[i][1]; k++) {
    layout.shapes.push({type: 'line', layer: 'below', xref: xa + ' domain', yref: ya,
      x0: 0, x1: 1, y0: k * yh, y1: k * yh,
      line: {color: k % 2 === 0 ? MAJOR : MINOR, width: k % 2 === 0 ? 1.1 : 1}});
  }

  // facet strip
  layout.shapes.push({
    type: 'rect', xref: 'paper', yref: 'paper', layer: 'above',
    x0: px(panelX[i][0]), x1: px(panelX[i][1] + (i % 2 ? 3 : 0)),
    y0: py(stripY[i][1]), y1: py(stripY[i][0]),
    fillcolor: '#f2f2f2', line: {color: '#333333', width: 1.4}
  });
  layout.annotations.push({
    xref: 'paper', yref: 'paper', showarrow: false,
    x: px((panelX[i][0] + Math.min(panelX[i][1], 1174)) / 2), y: py((stripY[i][0] + stripY[i][1]) / 2),
    xanchor: 'center', yanchor: 'middle', text: panelTitles[i],
    font: {family: FONT, size: 18, color: '#1a1a1a'}
  });
  // regression equation
  const nb = '\u00a0';
  layout.annotations.push({
    xref: 'paper', yref: 'paper', showarrow: false,
    x: px(eqPos[i][0]), y: py(eqPos[i][1]), xanchor: 'left', yanchor: 'middle',
    text: '<i>y</i>' + nb + '=' + nb + fitIntercept[i] + nb + '+' + nb + fitSlope[i] + nb + '·' + nb + '<i>x</i>,' + nb + nb +
          '<i>r</i><sup>2</sup>' + nb + '=' + nb + fitR2[i],
    font: {family: FONT, size: 21.5, color: '#000'}
  });
});

const gap = '\u00a0\u00a0\u00a0';
layout.annotations.push({
  xref: 'paper', yref: 'paper', showarrow: false, x: px(617), y: py(20), xanchor: 'center', yanchor: 'middle',
  text: '<b>Regression between E-BAM and SHARP Monitor at Kelowna College</b>',
  font: {family: FONT, size: 24, color: '#000'}
});
layout.annotations.push({
  xref: 'paper', yref: 'paper', showarrow: false, x: px(628), y: py(809), xanchor: 'center', yanchor: 'middle',
  text: 'SHARP' + gap + 'PM<sub>2.5</sub>' + gap + '(µg/m<sup>3</sup>)',
  font: {family: FONT, size: 21, color: '#000'}
});
layout.annotations.push({
  xref: 'paper', yref: 'paper', showarrow: false, x: px(21), y: py(435), xanchor: 'center', yanchor: 'middle',
  textangle: -90,
  text: 'E-BAM' + gap + 'PM<sub>2.5</sub>' + gap + '(µg/m<sup>3</sup>)',
  font: {family: FONT, size: 21, color: '#000'}
});

Plotly.newPlot('chart', traces, layout, {displayModeBar: false, staticPlot: true});
</script>
</body>
</html>
